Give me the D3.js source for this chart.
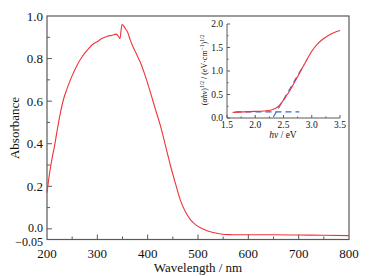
<!DOCTYPE html>
<html>
<head>
<meta charset="utf-8">
<script src="https://cdn.jsdelivr.net/npm/d3@7"></script>
<style>
  body { margin: 0; background: #fff; }
  svg { font-family: "Liberation Serif", "DejaVu Serif", serif; }
</style>
</head>
<body>
<div id="chart"></div>
<script>
// absorbance spectrum (wavelength nm, absorbance)
const wavelength = [200, 205, 210, 215, 220, 227, 233, 240, 250, 260, 270, 280, 290, 300, 310, 320, 330, 337, 342, 345, 347, 349, 352, 356, 360, 365, 370, 375, 380, 385, 395, 405, 415, 425, 435, 445, 455, 465, 475, 485, 495, 505, 517, 530, 545, 560, 580, 600, 650, 700, 750, 800];
const absorbance = [0.17, 0.26, 0.33, 0.39, 0.46, 0.55, 0.61, 0.66, 0.72, 0.77, 0.81, 0.84, 0.865, 0.88, 0.895, 0.905, 0.91, 0.915, 0.905, 0.893, 0.93, 0.96, 0.955, 0.94, 0.925, 0.89, 0.86, 0.835, 0.81, 0.785, 0.72, 0.645, 0.565, 0.487, 0.395, 0.30, 0.215, 0.135, 0.08, 0.043, 0.02, 0.005, -0.008, -0.017, -0.024, -0.027, -0.028, -0.028, -0.028, -0.029, -0.03, -0.032];

// Tauc plot inset
const photonEnergy = [1.6, 1.8, 2.0, 2.1, 2.2, 2.3, 2.35, 2.4, 2.45, 2.5, 2.55, 2.6, 2.65, 2.7, 2.75, 2.8, 2.85, 2.9, 2.95, 3.0, 3.1, 3.2, 3.3, 3.4, 3.5];
const taucValue = [0.12, 0.13, 0.14, 0.145, 0.155, 0.175, 0.2, 0.24, 0.3, 0.38, 0.47, 0.56, 0.66, 0.77, 0.88, 0.99, 1.1, 1.21, 1.32, 1.42, 1.57, 1.68, 1.76, 1.82, 1.86];
const baselineFit = [[1.65, 0.13], [2.78, 0.13]];
const edgeFit = [[2.32, 0.02], [2.86, 1.13]];

const xTicks = [200, 300, 400, 500, 600, 700, 800];
const yTicks = [1.0, 0.8, 0.6, 0.4, 0.2, 0.0, -0.05];
const insetXTicks = [1.5, 2.0, 2.5, 3.0, 3.5];
const insetYTicks = [0.0, 0.5, 1.0, 1.5, 2.0];

const W = 374, H = 276;
const m = {left: 47, right: 349, top: 16, bottom: 239.5};
const axisColor = "#5a5a5a";
const red = "#f2323a";

const svg = d3.select("#chart").append("svg").attr("width", W).attr("height", H);

const x = d3.scaleLinear().domain([200, 800]).range([m.left, m.right]);
const y = d3.scaleLinear().domain([-0.05, 1.0]).range([m.bottom, m.top]);

// frame
svg.append("rect")
  .attr("x", m.left).attr("y", m.top)
  .attr("width", m.right - m.left).attr("height", m.bottom - m.top)
  .attr("fill", "none").attr("stroke", axisColor).attr("stroke-width", 1.2);

// inward ticks
const minorX = d3.range(250, 800, 100);
svg.append("g").selectAll("line").data(xTicks.slice(1, -1))
  .join("line").attr("x1", d => x(d)).attr("x2", d => x(d))
  .attr("y1", m.bottom).attr("y2", m.bottom - 5).attr("stroke", axisColor);
svg.append("g").selectAll("line").data(minorX)
  .join("line").attr("x1", d => x(d)).attr("x2", d => x(d))
  .attr("y1", m.bottom).attr("y2", m.bottom - 3).attr("stroke", axisColor);
svg.append("g").selectAll("line").data(yTicks.slice(1, -1))
  .join("line").attr("x1", m.left).attr("x2", m.left + 5)
  .attr("y1", d => y(d)).attr("y2", d => y(d)).attr("stroke", axisColor);
svg.append("g").selectAll("line").data([0.9, 0.7, 0.5, 0.3, 0.1])
  .join("line").attr("x1", m.left).attr("x2", m.left + 3)
  .attr("y1", d => y(d)).attr("y2", d => y(d)).attr("stroke", axisColor);

// tick labels
svg.append("g").selectAll("text").data(xTicks)
  .join("text").attr("x", d => x(d)).attr("y", 258)
  .attr("text-anchor", "middle").attr("font-size", 13).attr("fill", "#111")
  .text(d => d);
// 0.0 and -0.05 sit very close, nudge them apart a little
svg.append("g").selectAll("text").data(yTicks)
  .join("text").attr("x", 43)
  .attr("y", d => y(d) + 4.5 + (d === 0 ? -1.5 : d < 0 ? 1.5 : 0))
  .attr("text-anchor", "end").attr("font-size", d => d <= 0 ? 12 : 13).attr("fill", "#111")
  .text(d => d < 0 ? "\u22120.05" : d.toFixed(1));

svg.append("text").attr("x", 198).attr("y", 272)
  .attr("text-anchor", "middle").attr("font-size", 13).attr("fill", "#111")
  .text("Wavelength / nm");
svg.append("text").attr("transform", "translate(19,128) rotate(-90)")
  .attr("text-anchor", "middle").attr("font-size", 13).attr("fill", "#111")
  .text("Absorbance");

// main curve
const line = d3.line().x(d => x(d[0])).y(d => y(d[1])).curve(d3.curveMonotoneX);
svg.append("path")
  .datum(wavelength.map((w, i) => [w, absorbance[i]]))
  .attr("d", line).attr("fill", "none").attr("stroke", red).attr("stroke-width", 1.1);

// inset
const ix = d3.scaleLinear().domain([1.5, 3.5]).range([227, 340]);
const iy = d3.scaleLinear().domain([0, 2.0]).range([118, 24]);
const inset = svg.append("g");

inset.append("path")
  .attr("d", `M${ix(1.5)},${iy(2.0)}V${iy(0)}H${ix(3.5)}`)
  .attr("fill", "none").attr("stroke", axisColor).attr("stroke-width", 1);
inset.selectAll(".ixt").data(d3.range(1.5, 3.51, 0.25))
  .join("line").attr("x1", d => ix(d)).attr("x2", d => ix(d))
  .attr("y1", iy(0)).attr("y2", (d, i) => iy(0) - (i % 2 ? 1.5 : 3))
  .attr("stroke", axisColor);
inset.selectAll(".iyt").data(d3.range(0, 2.01, 0.25))
  .join("line").attr("x1", ix(1.5)).attr("x2", (d, i) => ix(1.5) + (i % 2 ? 1.5 : 3))
  .attr("y1", d => iy(d)).attr("y2", d => iy(d))
  .attr("stroke", axisColor);
inset.selectAll(".ixl").data(insetXTicks)
  .join("text").attr("x", d => ix(d)).attr("y", 128)
  .attr("text-anchor", "middle").attr("font-size", 9.5).attr("fill", "#111")
  .text(d => d.toFixed(1));
inset.selectAll(".iyl").data(insetYTicks)
  .join("text").attr("x", 223).attr("y", d => iy(d) + 3.3)
  .attr("text-anchor", "end").attr("font-size", 9.5).attr("fill", "#111")
  .text(d => d.toFixed(1));

const xl = inset.append("text").attr("x", 283).attr("y", 138)
  .attr("text-anchor", "middle").attr("font-size", 9.5).attr("fill", "#111");
xl.append("tspan").attr("font-style", "italic").text("h\u03bd");
xl.append("tspan").text(" / eV");

const yl = inset.append("text").attr("transform", "translate(207,70) rotate(-90)")
  .attr("text-anchor", "middle").attr("font-size", 8).attr("fill", "#111");
yl.append("tspan").text("(");
yl.append("tspan").attr("font-style", "italic").text("\u03b1h\u03bd");
yl.append("tspan").text(")");
yl.append("tspan").attr("font-size", 5.5).attr("dy", -3).text("1/2");
yl.append("tspan").attr("dy", 3).text(" / (eV\u00b7cm");
yl.append("tspan").attr("font-size", 5.5).attr("dy", -3).text("\u22121");
yl.append("tspan").attr("dy", 3).text(")");
yl.append("tspan").attr("font-size", 5.5).attr("dy", -3).text("1/2");

const iline = d3.line().x(d => ix(d[0])).y(d => iy(d[1]));
[baselineFit, edgeFit].forEach(seg => {
  inset.append("path").datum(seg).attr("d", iline)
    .attr("fill", "none").attr("stroke", "#3f64c8").attr("stroke-width", 1.1)
    .attr("stroke-dasharray", "6,4");
});
inset.append("path")
  .datum(photonEnergy.map((e, i) => [e, taucValue[i]]))
  .attr("d", iline.curve(d3.curveMonotoneX))
  .attr("fill", "none").attr("stroke", red).attr("stroke-width", 1.1);
</script>
</body>
</html>
